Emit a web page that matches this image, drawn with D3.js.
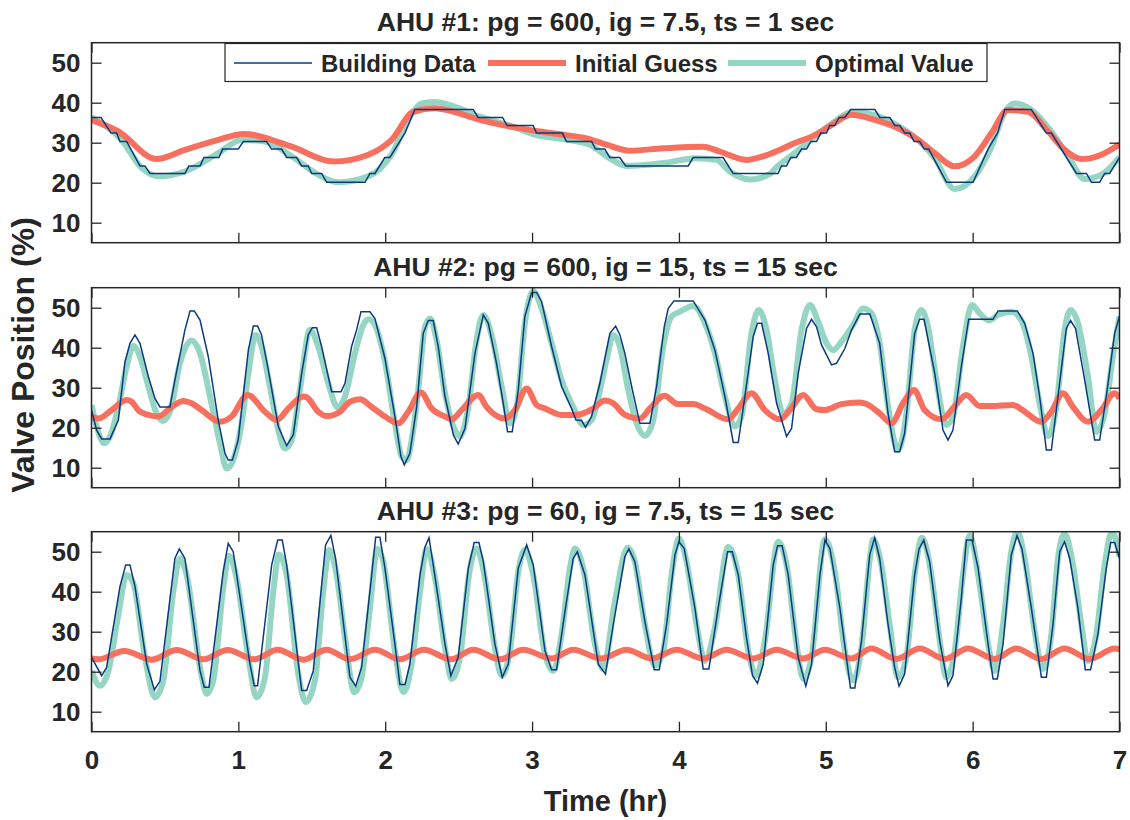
<!DOCTYPE html>
<html>
<head>
<meta charset="utf-8">
<script src="https://cdn.jsdelivr.net/npm/d3@7"></script>
<style>
  body { margin: 0; background: #fff; }
  text { font-family: "Liberation Sans", Arial, Helvetica, sans-serif; font-weight: bold; fill: #262626; }
</style>
</head>
<body>
<svg id="chart" width="1130" height="820"></svg>
<script>
// ---------------- data ----------------
const panelTitles = [
  "AHU #1: pg = 600, ig = 7.5, ts = 1 sec",
  "AHU #2: pg = 600, ig = 15, ts = 15 sec",
  "AHU #3: pg = 60, ig = 7.5, ts = 15 sec"
];
const seriesNames = ["Building Data", "Initial Guess", "Optimal Value"];
const yTicks = [10, 20, 30, 40, 50];
const xTicks = [0, 1, 2, 3, 4, 5, 6, 7];

// AHU #1
const ahu1BuildingT = [0,0.065,0.133,0.171,0.194,0.239,0.330,0.364,0.398,0.636,0.663,0.739,0.766,0.868,0.893,0.999,1.034,1.192,1.226,1.294,1.329,1.397,1.431,1.476,1.499,1.567,1.601,1.862,1.896,1.930,1.997,2.032,2.134,2.202,2.599,2.633,2.799,2.830,3.007,3.030,3.207,3.234,3.405,3.432,3.495,3.529,3.597,3.638,4.063,4.097,4.301,4.369,4.675,4.698,4.732,4.762,4.800,4.835,4.869,4.898,4.937,4.966,5.005,5.027,5.061,5.091,5.130,5.170,5.334,5.368,5.436,5.470,5.504,5.538,5.572,5.601,5.640,5.670,5.701,5.822,6.003,6.105,6.169,6.219,6.400,6.502,6.536,6.707,6.775,6.809,6.865,6.899,6.933,7.0];
const ahu1BuildingV = [36.3,36.3,32.4,32.4,30.3,30.3,24.2,24.2,22.3,22.3,24.2,24.2,26.3,26.3,28.4,28.4,30.3,30.3,28.4,28.4,26.3,26.3,24.2,24.2,22.3,22.3,20.1,20.1,22.3,22.3,26.3,26.3,32.4,38.3,38.3,36.3,36.3,34.3,34.3,32.4,32.4,30.3,30.3,28.4,28.4,26.3,26.3,24.2,24.2,26.3,26.3,22.3,22.3,24.2,24.2,26.3,26.3,28.4,28.4,30.3,30.3,32.4,32.4,34.3,34.3,36.3,36.3,38.3,38.3,36.3,36.3,34.3,34.3,32.4,32.4,30.3,30.3,28.4,28.4,20.1,20.1,28.4,32.4,38.3,38.3,32.4,32.4,22.3,22.3,20.1,20.1,22.3,22.3,26.3];
const ahu1GuessT = [0,0.183,0.443,0.636,0.863,1.034,1.363,1.647,1.885,2.043,2.191,2.338,2.44,2.644,2.871,3.053,3.212,3.37,3.507,3.665,3.892,4.165,4.278,4.46,4.573,4.686,4.789,4.925,5.039,5.175,5.334,5.493,5.629,5.742,5.878,6.014,6.128,6.241,6.378,6.514,6.627,6.741,6.877,7.0];
const ahu1GuessV = [35.7,32.8,25.9,28.2,30.7,32.2,29.0,25.3,27.0,30.7,37.7,38.6,38.0,35.7,33.9,32.8,32.0,31.1,29.5,28.0,28.6,29.0,27.8,25.7,26.6,28.2,29.9,31.9,34.4,37.0,35.7,33.6,30.7,27.4,24.1,26.6,32.4,38.2,37.7,32.8,28.2,25.9,27.0,29.6];
const ahu1OptimalT = [0,0.205,0.341,0.455,0.636,0.863,1.022,1.181,1.363,1.544,1.68,1.885,2.043,2.168,2.248,2.338,2.44,2.644,2.871,3.03,3.212,3.393,3.529,3.643,3.892,4.119,4.255,4.346,4.482,4.62,4.66,4.789,4.925,5.061,5.175,5.334,5.493,5.629,5.742,5.878,6.014,6.128,6.219,6.287,6.4,6.536,6.65,6.763,6.877,7.0];
const ahu1OptimalV = [36.3,30.7,23.7,21.6,22.8,27.4,30.7,30.3,26.6,22.0,20.1,21.6,27.0,36.5,39.8,40.2,39.4,36.5,34.0,31.9,30.9,29.5,26.1,24.2,24.9,26.1,25.7,22.8,20.8,22.2,23.7,27.4,31.5,35.3,37.7,36.9,34.2,30.7,26.1,18.4,21.6,29.0,37.7,39.8,38.2,32.8,26.6,20.9,22.0,26.4];

// AHU #2
const ahu2BuildingT = [0,0.035,0.069,0.126,0.183,0.228,0.262,0.296,0.330,0.387,0.432,0.466,0.534,0.568,0.636,0.671,0.700,0.739,0.795,0.863,0.909,0.931,0.959,0.999,1.068,1.102,1.131,1.158,1.204,1.272,1.329,1.374,1.431,1.476,1.503,1.533,1.567,1.635,1.699,1.726,1.771,1.805,1.835,1.896,1.930,1.998,2.066,2.107,2.130,2.168,2.214,2.259,2.293,2.327,2.361,2.407,2.464,2.497,2.543,2.611,2.668,2.702,2.758,2.804,2.833,2.865,2.906,2.951,2.997,3.031,3.065,3.133,3.201,3.269,3.299,3.337,3.364,3.405,3.462,3.53,3.569,3.598,3.632,3.678,3.734,3.802,3.848,3.9,3.927,3.966,4.097,4.177,4.245,4.313,4.37,4.404,4.449,4.506,4.535,4.563,4.608,4.665,4.733,4.767,4.812,4.869,4.903,4.937,4.971,5.039,5.073,5.13,5.175,5.232,5.3,5.367,5.424,5.469,5.503,5.537,5.605,5.639,5.669,5.742,5.798,5.832,5.866,5.923,5.973,6.139,6.173,6.304,6.354,6.411,6.456,6.502,6.536,6.581,6.638,6.667,6.701,6.763,6.831,6.865,6.91,6.967,7.0];
const ahu2BuildingV = [24.4,19.4,17.2,17.2,21.9,36.5,41.1,43.2,41.1,32.8,27.3,25.2,25.2,31.9,44.4,49.2,49.2,46.9,37.8,21.9,13.6,11.9,11.9,16.9,39.4,45.4,45.4,43.2,34.4,20.3,15.5,18.2,33.6,43.2,45.0,45.0,40.3,29.0,29.0,31.1,40.3,44.4,49.0,49.0,47.3,37.3,22.8,12.8,10.7,13.6,25.2,43.6,46.8,46.8,40.3,27.8,18.2,15.9,19.8,38.6,48.2,46.1,36.1,26.1,19.0,19.0,29.4,47.8,53.8,53.8,51.5,40.3,30.3,24.8,21.9,21.8,20.1,22.8,31.1,43.6,45.4,43.2,38.6,30.3,21.1,21.1,30.3,45.2,49.8,51.7,51.7,46.9,39.4,27.8,16.3,16.3,27.8,42.8,46.1,46.1,38.6,26.1,17.8,19.8,33.6,44.8,47.1,45.2,40.7,35.7,36.1,39.8,44.4,48.4,48.4,41.1,23.6,14.0,14.0,18.6,43.6,47.1,47.1,33.6,19.4,16.9,19.4,35.3,47.1,47.1,49.2,49.2,46.1,38.6,27.8,14.4,14.4,27.8,44.8,46.8,44.8,31.9,16.9,16.9,27.8,43.6,47.9];
const ahu2GuessT = [0,0.046,0.137,0.239,0.273,0.330,0.455,0.546,0.625,0.682,0.750,0.875,0.954,1.063,1.181,1.261,1.34,1.442,1.465,1.544,1.601,1.692,1.76,1.828,1.908,1.998,2.089,2.157,2.243,2.316,2.407,2.452,2.52,2.634,2.69,2.815,2.883,2.963,3.031,3.088,3.201,3.303,3.416,3.496,3.553,3.632,3.734,3.802,3.9,3.995,4.097,4.177,4.336,4.404,4.494,4.585,4.687,4.755,4.846,4.937,4.994,5.107,5.221,5.265,5.367,5.447,5.526,5.601,5.673,5.787,5.878,5.957,6.048,6.127,6.275,6.354,6.467,6.536,6.615,6.683,6.785,6.876,6.967,7.0];
const ahu2GuessV = [22.8,22.3,24.4,26.9,26.5,24.0,22.8,25.2,26.7,26.1,24.4,21.5,22.8,28.2,24.0,21.9,24.8,27.8,27.6,24.0,22.9,24.0,26.5,27.1,25.2,22.8,21.1,24.0,28.8,24.8,22.8,22.1,24.4,28.2,25.2,22.3,24.4,29.8,25.7,24.8,23.2,23.2,24.8,26.8,26.1,23.2,22.3,24.8,28.0,25.9,25.9,24.8,22.1,24.8,28.6,24.4,22.1,24.4,28.2,24.6,24.4,25.9,26.3,26.1,23.6,21.1,26.1,29.4,24.4,22.1,25.4,28.2,25.4,25.4,25.7,24.0,21.5,24.0,28.6,25.2,21.5,24.4,28.6,27.3];
const ahu2OptimalT = [0,0.035,0.087,0.126,0.183,0.239,0.285,0.330,0.387,0.443,0.484,0.534,0.602,0.682,0.739,0.807,0.875,0.920,0.965,1.022,1.068,1.118,1.158,1.215,1.272,1.317,1.363,1.419,1.487,1.544,1.612,1.676,1.726,1.794,1.851,1.885,1.930,1.998,2.066,2.112,2.146,2.180,2.225,2.271,2.305,2.35,2.407,2.464,2.509,2.566,2.622,2.668,2.724,2.793,2.849,2.895,2.951,3.008,3.065,3.133,3.201,3.28,3.348,3.405,3.473,3.51,3.553,3.598,3.655,3.712,3.768,3.825,3.893,3.95,4.007,4.097,4.177,4.245,4.313,4.381,4.426,4.494,4.544,4.597,4.653,4.71,4.767,4.835,4.892,4.948,5.005,5.05,5.107,5.186,5.255,5.31,5.367,5.424,5.492,5.549,5.605,5.651,5.696,5.753,5.821,5.866,5.934,5.996,6.048,6.111,6.173,6.263,6.331,6.4,6.456,6.513,6.57,6.626,6.667,6.717,6.785,6.842,6.899,6.955,7.0];
const ahu2OptimalV = [25.7,20.3,16.1,17.8,25.2,35.3,40.4,37.8,30.3,23.6,21.7,24.0,36.1,41.8,38.6,27.8,16.1,9.8,11.9,21.1,33.6,43.2,40.3,30.3,19.4,14.8,16.9,29.4,44.4,40.3,31.1,25.1,27.8,38.6,45.7,47.1,45.7,36.5,21.1,12.8,11.9,16.9,29.4,45.2,47.3,41.9,28.6,20.3,17.8,25.2,41.9,48.2,43.2,30.3,21.1,25.2,46.1,54.2,49.8,41.1,31.9,25.2,20.7,21.9,31.1,37.5,43.2,40.3,29.4,21.1,18.0,21.9,40.3,47.8,49.0,50.4,46.1,38.6,27.8,20.3,22.8,43.6,49.4,44.4,31.9,23.6,26.1,44.4,50.7,46.5,41.1,39.4,41.5,45.7,49.8,48.6,41.1,25.3,14.4,23.6,44.4,49.4,45.2,31.9,20.7,22.8,40.3,50.7,48.6,46.8,48.2,49.0,46.9,37.8,26.1,17.9,25.2,44.4,49.4,46.1,32.8,19.0,23.6,37.8,47.8];

// AHU #3
const ahu3BuildingT = [0,0.069,0.103,0.194,0.233,0.262,0.296,0.376,0.428,0.466,0.568,0.598,0.636,0.739,0.768,0.8,0.897,0.931,0.965,1.079,1.108,1.131,1.227,1.268,1.299,1.329,1.431,1.465,1.51,1.594,1.63,1.662,1.76,1.799,1.839,1.896,1.935,1.964,1.998,2.066,2.1,2.135,2.168,2.237,2.271,2.298,2.327,2.407,2.447,2.497,2.566,2.606,2.638,2.668,2.747,2.797,2.838,2.906,2.963,3.008,3.088,3.133,3.167,3.224,3.28,3.308,3.36,3.451,3.5,3.553,3.632,3.659,3.7,3.768,3.832,3.866,3.916,3.973,4.0,4.036,4.109,4.165,4.204,4.267,4.331,4.363,4.404,4.46,4.501,4.535,4.574,4.642,4.672,4.703,4.744,4.812,4.864,4.903,4.96,4.994,5.028,5.096,5.168,5.198,5.243,5.299,5.333,5.367,5.424,5.469,5.499,5.537,5.605,5.635,5.667,5.707,5.776,5.832,5.866,5.923,5.957,5.996,6.037,6.105,6.139,6.168,6.207,6.263,6.302,6.336,6.4,6.468,6.502,6.547,6.593,6.626,6.661,6.717,6.767,6.803,6.853,6.91,6.94,6.967,7.0];
const ahu3BuildingV = [23.6,19.0,21.1,41.3,46.7,46.7,41.3,21.9,15.5,17.6,48.3,50.7,48.3,20.2,16.1,16.1,45.0,52.1,50.0,21.9,16.5,16.5,46.7,52.9,52.9,46.7,15.3,15.3,20.2,51.7,54.1,48.3,18.6,16.4,21.1,40.1,53.6,53.6,45.9,26.9,16.8,16.8,21.9,44.2,51.2,53.5,46.7,26.9,19.0,23.6,45.9,52.3,52.3,47.5,26.9,18.6,21.9,45.9,51.7,46.7,25.2,20.5,20.5,35.1,48.3,50.0,44.2,21.9,19.4,31.8,48.8,50.7,47.5,32.6,20.5,20.5,31.8,49.2,52.5,50.8,35.9,20.7,20.7,35.9,50.0,50.0,44.2,28.5,19.0,17.1,21.9,46.7,51.5,51.5,44.2,23.6,16.4,21.9,44.2,52.9,50.8,35.9,15.9,15.9,27.7,49.2,53.5,48.3,31.8,21.1,16.4,19.4,44.2,50.7,52.9,47.5,27.7,16.5,19.0,38.4,52.9,52.9,45.9,26.9,18.2,18.2,26.9,49.2,54.0,50.7,35.9,18.6,18.6,31.8,50.0,52.5,48.3,35.9,20.5,20.5,29.3,45.9,52.3,52.3,48.3];
const ahu3GuessT = [0,0.046,0.224,0.41,0.58,0.762,0.927,1.108,1.268,1.442,1.601,1.76,1.93,2.1,2.264,2.448,2.6,2.781,2.94,3.133,3.28,3.47,3.643,3.814,3.984,4.165,4.324,4.506,4.665,4.846,4.994,5.175,5.31,5.48,5.64,5.81,5.968,6.15,6.297,6.468,6.626,6.797,6.967,7.0];
const ahu3GuessV = [23.3,23.1,25.2,23.0,25.4,23.1,25.4,23.1,25.5,23.0,25.5,23.1,25.5,23.1,25.5,23.1,25.5,23.1,25.5,23.3,25.5,23.3,25.5,23.3,25.5,23.3,25.5,23.3,25.5,23.3,25.5,23.3,25.8,23.2,25.8,23.2,25.8,23.2,25.8,23.2,25.8,23.2,25.8,25.6];
const ahu3OptimalT = [0,0.058,0.115,0.183,0.239,0.285,0.364,0.432,0.489,0.557,0.602,0.648,0.739,0.784,0.829,0.897,0.936,0.988,1.068,1.124,1.181,1.238,1.276,1.329,1.408,1.458,1.521,1.578,1.619,1.669,1.726,1.79,1.839,1.896,1.946,1.987,2.066,2.123,2.18,2.237,2.282,2.339,2.407,2.452,2.509,2.57,2.622,2.679,2.747,2.793,2.849,2.906,2.951,3.008,3.088,3.144,3.201,3.258,3.292,3.348,3.428,3.484,3.564,3.65,3.7,3.768,3.836,3.893,3.95,4.0,4.052,4.12,4.177,4.245,4.336,4.404,4.472,4.528,4.585,4.676,4.733,4.801,4.846,4.903,4.994,5.062,5.13,5.186,5.243,5.3,5.322,5.378,5.435,5.492,5.549,5.605,5.655,5.719,5.776,5.821,5.878,5.934,5.98,6.048,6.105,6.15,6.207,6.263,6.304,6.354,6.422,6.479,6.536,6.581,6.626,6.683,6.74,6.785,6.842,6.899,6.949,7.0];
const ahu3OptimalV = [20.2,16.5,20.2,34.3,44.2,42.1,23.6,13.6,17.8,40.1,48.3,44.2,21.1,14.5,17.8,40.9,49.0,43.4,23.6,13.6,18.6,40.1,49.3,44.2,19.4,12.4,17.8,40.1,50.4,44.2,28.5,14.9,18.6,35.9,50.7,47.5,25.2,14.9,21.9,40.1,50.7,43.4,26.0,18.2,23.6,44.2,50.8,43.4,26.0,19.0,25.2,45.0,50.4,44.2,24.4,20.2,29.3,45.9,50.8,45.9,26.9,20.7,37.6,51.0,47.5,31.8,21.5,25.2,44.2,53.3,47.5,31.8,22.7,31.0,51.2,44.2,25.2,19.0,27.7,52.5,46.7,26.9,18.2,23.6,53.1,45.0,25.2,17.8,26.0,48.3,53.1,46.7,31.8,18.6,23.6,44.2,53.5,44.2,27.7,18.6,25.2,44.2,54.0,41.7,26.9,20.2,31.8,50.0,55.0,48.3,30.2,20.7,29.3,48.3,54.5,46.7,31.8,22.7,29.3,46.7,55.0,48.8];

const panels = [
  { title: panelTitles[0], building: [ahu1BuildingT, ahu1BuildingV], guess: [ahu1GuessT, ahu1GuessV], optimal: [ahu1OptimalT, ahu1OptimalV] },
  { title: panelTitles[1], building: [ahu2BuildingT, ahu2BuildingV], guess: [ahu2GuessT, ahu2GuessV], optimal: [ahu2OptimalT, ahu2OptimalV] },
  { title: panelTitles[2], building: [ahu3BuildingT, ahu3BuildingV], guess: [ahu3GuessT, ahu3GuessV], optimal: [ahu3OptimalT, ahu3OptimalV] }
];

// ---------------- layout ----------------
const colors = { building: "#0b3b7c", guess: "#f7705f", optimal: "#95d5c4", axis: "#262626" };
const plotLeft = 91.5, plotRight = 1119.5, panelHeight = 200;
const panelTops = [42.7, 287.7, 531.7];

const svg = d3.select("#chart");
const x = d3.scaleLinear().domain([0, 7]).range([plotLeft, plotRight]);

const zip = (t, v) => t.map((d, i) => [d, v[i]]);

panels.forEach((p, idx) => {
  const top = panelTops[idx];
  const y = d3.scaleLinear().domain([5, 55]).range([top + panelHeight, top]);
  const g = svg.append("g");

  g.append("clipPath").attr("id", "clip" + idx)
    .append("rect").attr("x", plotLeft).attr("y", top).attr("width", plotRight - plotLeft).attr("height", panelHeight);

  const lines = g.append("g").attr("clip-path", `url(#clip${idx})`);
  const smooth = d3.line().x(d => x(d[0])).y(d => y(d[1])).curve(d3.curveMonotoneX);
  const straight = d3.line().x(d => x(d[0])).y(d => y(d[1]));

  lines.append("path").attr("d", smooth(zip(...p.optimal)))
    .attr("fill", "none").attr("stroke", colors.optimal).attr("stroke-width", 6).attr("stroke-linejoin", "round");
  lines.append("path").attr("d", smooth(zip(...p.guess)))
    .attr("fill", "none").attr("stroke", colors.guess).attr("stroke-width", 6).attr("stroke-linejoin", "round");
  lines.append("path").attr("d", straight(zip(...p.building)))
    .attr("fill", "none").attr("stroke", colors.building).attr("stroke-width", 1.5);

  // axes with inward ticks on all four sides
  const left = g.append("g").attr("transform", `translate(${plotLeft},0)`)
    .call(d3.axisLeft(y).tickValues(yTicks).tickSize(-10).tickPadding(11).tickSizeOuter(0));
  const right = g.append("g").attr("transform", `translate(${plotRight},0)`)
    .call(d3.axisRight(y).tickValues(yTicks).tickSize(-10).tickFormat("").tickSizeOuter(0));
  const topAx = g.append("g").attr("transform", `translate(0,${top})`)
    .call(d3.axisTop(x).tickValues(xTicks).tickSize(-10).tickFormat("").tickSizeOuter(0));
  const bottom = g.append("g").attr("transform", `translate(0,${top + panelHeight})`)
    .call(d3.axisBottom(x).tickValues(xTicks).tickSize(-10).tickPadding(19).tickSizeOuter(0)
      .tickFormat(idx === 2 ? d3.format("d") : ""));
  [left, right, topAx, bottom].forEach(a => {
    a.select(".domain").remove();
    a.selectAll(".tick line").attr("stroke", colors.axis).attr("stroke-width", 1.3);
    a.selectAll(".tick text").style("font-size", "26px").attr("fill", colors.axis);
  });
  g.append("rect").attr("x", plotLeft).attr("y", top).attr("width", plotRight - plotLeft).attr("height", panelHeight)
    .attr("fill", "none").attr("stroke", colors.axis).attr("stroke-width", 1.5);

  g.append("text").attr("x", (plotLeft + plotRight) / 2).attr("y", top - 12)
    .attr("text-anchor", "middle").style("font-size", "26.5px").attr("fill", "#111").text(p.title);
});

// legend in the first panel
const legend = svg.append("g");
legend.append("rect").attr("x", 225).attr("y", 43.5).attr("width", 762).attr("height", 38)
  .attr("fill", "#fff").attr("stroke", colors.axis).attr("stroke-width", 1.2);
const legendItems = [
  { name: seriesNames[0], color: colors.building, width: 1.5, x0: 234 },
  { name: seriesNames[1], color: colors.guess, width: 6, x0: 488 },
  { name: seriesNames[2], color: colors.optimal, width: 6, x0: 728 }
];
legendItems.forEach(it => {
  legend.append("line").attr("x1", it.x0).attr("x2", it.x0 + 78).attr("y1", 63).attr("y2", 63)
    .attr("stroke", it.color).attr("stroke-width", it.width);
  legend.append("text").attr("x", it.x0 + 87).attr("y", 72).style("font-size", "24px").attr("fill", "#111").text(it.name);
});

// axis titles
svg.append("text").attr("x", (plotLeft + plotRight) / 2).attr("y", 811)
  .attr("text-anchor", "middle").style("font-size", "29px").text("Time (hr)");
svg.append("text").attr("transform", `translate(34,355) rotate(-90)`)
  .attr("text-anchor", "middle").style("font-size", "32px").text("Valve Position (%)");
</script>
</body>
</html>
